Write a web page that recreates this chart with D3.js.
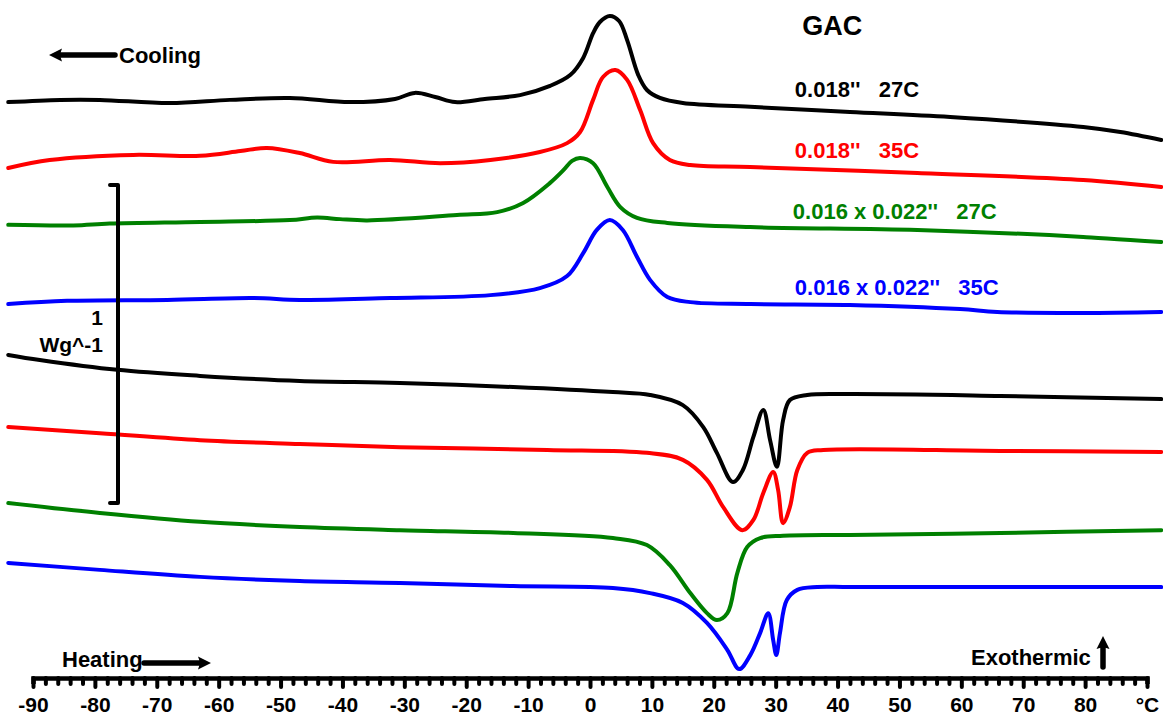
<!DOCTYPE html>
<html><head><meta charset="utf-8">
<script src="https://cdn.jsdelivr.net/npm/d3@7/dist/d3.min.js"></script>
<style>
body{margin:0;background:#fff;}
svg{display:block;}
text{font-family:"Liberation Sans",Arial,sans-serif;font-weight:bold;}
</style>
</head><body>
<svg id="chart" width="1163" height="715"></svg>
<script>
// ---- DATA (temperature °C, heat flow W/g with stacking offset) ----
const seriesLabels = ["0.018''   27C", "0.018''   35C", "0.016 x 0.022''   27C", "0.016 x 0.022''   35C"];
const seriesColors = ["#000000", "#ff0000", "#008000", "#0000ff"];
const xTickValues = d3.range(-90, 91, 2);
const xTickLabels = d3.range(-90, 81, 10);
const unitLabel = "°C";

// Cooling runs
const cool018_27 = [[-94,1.811],[-85.6,1.818],[-79.2,1.818],[-67.9,1.808],[-58.2,1.818],[-48.5,1.824],[-38.8,1.811],[-31.5,1.821],[-28.3,1.840],[-25,1.827],[-21.8,1.811],[-17,1.821],[-11.3,1.833],[-6.45,1.862],[-3.2,1.896],[-1.1,1.950],[0.5,2.028],[1.6,2.063],[3.2,2.082],[4.7,2.066],[6.0,2.006],[7.8,1.896],[9.2,1.849],[11.3,1.824],[15,1.808],[25.9,1.796],[42,1.780],[58.2,1.764],[79.7,1.733],[85.7,1.717],[92.3,1.692]];
const cool018_35 = [[-94,1.604],[-87.3,1.629],[-73.8,1.645],[-63,1.642],[-56.5,1.657],[-52.2,1.667],[-46.9,1.651],[-41.5,1.623],[-32.3,1.629],[-24.2,1.619],[-16.1,1.629],[-8.1,1.654],[-3.7,1.682],[-1.6,1.717],[0.5,1.818],[2.1,1.890],[4.1,1.912],[6,1.881],[8.1,1.786],[10.2,1.682],[12.9,1.629],[16.2,1.613],[25.9,1.607],[52.9,1.588],[79.7,1.566],[92.3,1.544]];
const cool016_27 = [[-94,1.425],[-83.5,1.423],[-77.6,1.429],[-63,1.434],[-48.5,1.440],[-44.1,1.448],[-40.4,1.443],[-36,1.439],[-21.5,1.456],[-15,1.465],[-10.8,1.494],[-6.45,1.557],[-4.3,1.597],[-2.9,1.626],[-1.6,1.635],[0.5,1.619],[2.8,1.544],[4.9,1.481],[7.6,1.447],[12.5,1.431],[25.9,1.418],[52.9,1.409],[79.7,1.387],[92.3,1.371]];
const cool016_35 = [[-94,1.176],[-84.5,1.186],[-68.3,1.189],[-54.4,1.195],[-46.9,1.189],[-32.3,1.195],[-16.1,1.204],[-8.1,1.226],[-3.7,1.264],[-1.1,1.336],[1.1,1.409],[3.2,1.440],[5.3,1.409],[7.6,1.324],[9.7,1.252],[12.5,1.198],[16.2,1.182],[25.9,1.176],[42,1.173],[59.8,1.160],[65.8,1.151],[79.7,1.148],[92.3,1.151]];

// Heating runs
const heat018_27 = [[-94,1.016],[-88.9,1.000],[-76.4,0.969],[-63,0.950],[-46.9,0.934],[-30.7,0.928],[-12.4,0.915],[3.7,0.899],[9.7,0.890],[15,0.858],[18.3,0.789],[20.5,0.708],[23.1,0.616],[24.7,0.654],[26.4,0.758],[28,0.843],[29.1,0.748],[30.2,0.664],[31.2,0.811],[32.3,0.874],[35.1,0.890],[42,0.893],[66.3,0.887],[92.3,0.877]];
const heat018_35 = [[-94,0.789],[-79.2,0.770],[-63,0.748],[-46.9,0.736],[-30.7,0.726],[-6.9,0.717],[9.2,0.708],[15,0.686],[18.9,0.623],[21.5,0.538],[24.6,0.465],[26.4,0.497],[28,0.582],[29.6,0.648],[30.4,0.591],[31.2,0.487],[32.3,0.538],[33.5,0.654],[35.1,0.708],[37.7,0.717],[66.3,0.714],[92.3,0.711]];
const heat016_27 = [[-94,0.550],[-79.2,0.519],[-63,0.491],[-46.9,0.475],[-30.7,0.465],[-12.4,0.456],[3.7,0.440],[9.2,0.418],[12.9,0.355],[16.2,0.267],[18.9,0.204],[20.5,0.182],[22.2,0.204],[23.8,0.330],[25.4,0.412],[27.5,0.440],[31.2,0.447],[42,0.450],[66.3,0.456],[92.3,0.465]];
const heat016_35 = [[-94,0.362],[-79.2,0.340],[-63,0.318],[-46.9,0.305],[-30.7,0.299],[-12.4,0.289],[3.7,0.283],[9.7,0.267],[15,0.236],[18.9,0.173],[22.2,0.088],[24.1,0.028],[25.9,0.072],[27.5,0.142],[28.8,0.204],[29.6,0.119],[30.1,0.072],[30.7,0.142],[31.8,0.245],[33.5,0.277],[36.7,0.286],[42,0.286],[92.3,0.286]];

const coolingCurves = [cool018_27, cool018_35, cool016_27, cool016_35];
const heatingCurves = [heat018_27, heat018_35, heat016_27, heat016_35];
const scaleBarBottom = 0.550; // scale bar spans 1 W/g
const labelTemp = 33.1;       // where series labels start
const labelValues = [1.827, 1.635, 1.443, 1.204];
const titleTemp = 34.3, titleValue = 2.022;

// ---- DRAW ----
const svg = d3.select("#chart");
const x = d3.scaleLinear().domain([-90, 90]).range([33, 1147]);
const y = d3.scaleLinear().domain([0, 1]).range([678, 360]);

const line = d3.line().x(d => x(d[0])).y(d => y(d[1])).curve(d3.curveCatmullRom.alpha(0.5));

const curves = svg.append("g").attr("fill", "none").attr("stroke-width", 4)
  .attr("stroke-linejoin", "round").attr("stroke-linecap", "round");
coolingCurves.forEach((c, i) => curves.append("path").attr("d", line(c)).attr("stroke", seriesColors[i]));
heatingCurves.forEach((c, i) => curves.append("path").attr("d", line(c)).attr("stroke", seriesColors[i]));

// Axis
const axis = d3.axisBottom(x).tickValues(xTickValues).tickSizeOuter(0).tickSize(6)
  .tickFormat(d => d === 90 ? unitLabel : (xTickLabels.includes(d) ? d : ""));
const ax = svg.append("g").attr("transform", "translate(0,678)").call(axis);
ax.select(".domain").attr("stroke", "#000").attr("stroke-width", 4.5);
ax.selectAll(".tick line").attr("stroke", "#000").attr("stroke-width", 4)
  .attr("stroke-linecap", "round")
  .attr("y2", d => (d % 10 === 0) ? 9 : 6);
ax.selectAll(".tick text").attr("font-size", 21).attr("fill", "#000")
  .attr("y", 34).attr("dy", 0)
  .style("font-family", "'Liberation Sans',Arial,sans-serif").style("font-weight", "bold");

// Title
svg.append("text").attr("x", x(titleTemp)).attr("y", y(titleValue)).attr("font-size", 27).text("GAC");

// Series labels
seriesLabels.forEach((s, i) => {
  svg.append("text").attr("x", x(labelTemp) - (i === 2 ? 2 : 0)).attr("y", y(labelValues[i]))
    .attr("font-size", 22).attr("fill", seriesColors[i])
    .style("white-space", "pre").attr("xml:space", "preserve").text(s);
});

// Scale bar
const sbX = 118;
const sbTop = y(scaleBarBottom + 1), sbBot = y(scaleBarBottom);
svg.append("path").attr("d", `M${sbX - 8},${sbTop}L${sbX},${sbTop}L${sbX},${sbBot}L${sbX - 8},${sbBot}`)
  .attr("fill", "none").attr("stroke", "#000").attr("stroke-width", 4)
  .attr("stroke-linecap", "round").attr("stroke-linejoin", "round");
svg.append("text").attr("x", 103).attr("y", 325).attr("text-anchor", "end").attr("font-size", 21).text("1");
svg.append("text").attr("x", 103).attr("y", 352).attr("text-anchor", "end").attr("font-size", 21).text("Wg^-1");

// Direction annotations
function arrow(x1, y1, x2, y2) {
  const g = svg.append("g");
  const ang = Math.atan2(y2 - y1, x2 - x1);
  const hl = 13, hw = 6.5;
  const bx = x2 - hl * Math.cos(ang), by = y2 - hl * Math.sin(ang);
  g.append("line").attr("x1", x1).attr("y1", y1).attr("x2", bx + 2*Math.cos(ang)).attr("y2", by + 2*Math.sin(ang))
    .attr("stroke", "#000").attr("stroke-width", 5.5).attr("stroke-linecap", "round");
  const px = -Math.sin(ang) * hw, py = Math.cos(ang) * hw;
  g.append("path").attr("d", `M${x2},${y2}L${bx + px},${by + py}Q${bx + 3*Math.cos(ang)},${by + 3*Math.sin(ang)} ${bx - px},${by - py}Z`)
    .attr("fill", "#000");
}
svg.append("text").attr("x", 119).attr("y", 63).attr("font-size", 22).text("Cooling");
arrow(115, 55, 49, 55);
svg.append("text").attr("x", 62).attr("y", 667).attr("font-size", 22).text("Heating");
arrow(144, 663, 211, 663);
svg.append("text").attr("x", 971).attr("y", 665).attr("font-size", 22).text("Exothermic");
arrow(1103, 667, 1103, 636);
</script>
</body></html>
